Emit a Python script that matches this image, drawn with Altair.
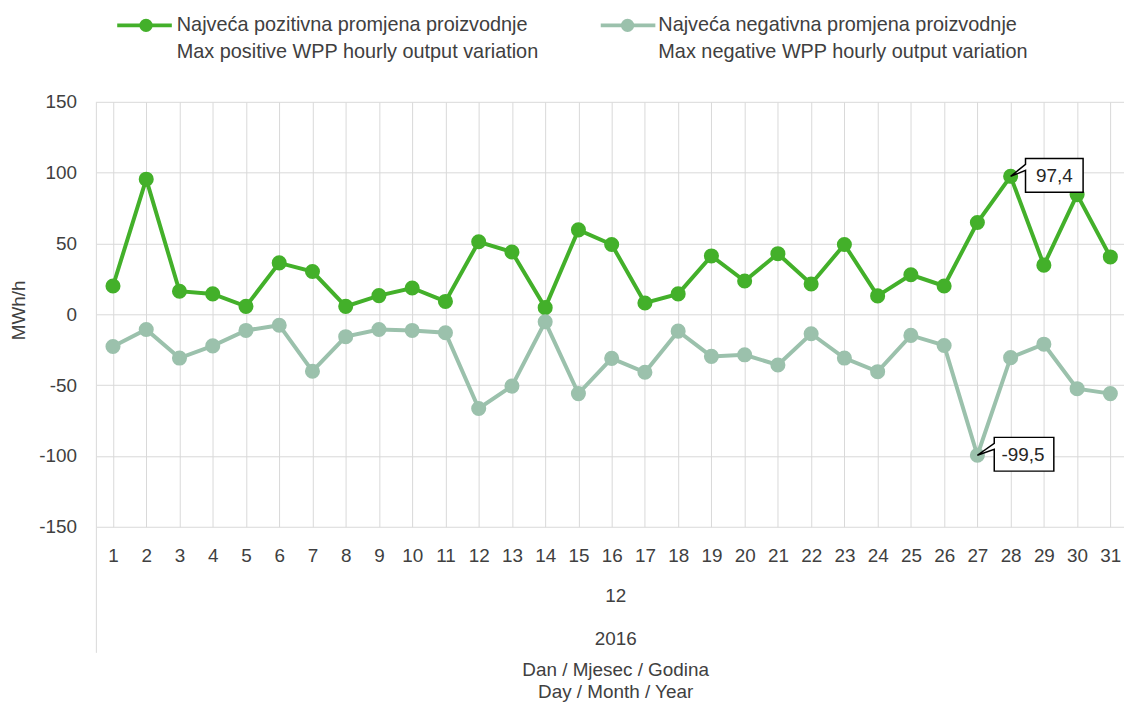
import altair as alt
import pandas as pd

days = list(range(1, 32))
pos_values = [20, 95.4, 16.3, 14.4, 5.6, 36.3, 30.2, 5.6, 13.2, 18.6, 9.1, 51.2, 44, 4.7, 59.6,
              49.3, 8, 14.4, 41.2, 23.5, 42.8, 21.4, 49.3, 13, 27.9, 20, 64.8, 97.4, 34.7, 84.5, 40.5]
neg_values = [-22.7, -10.7, -30.9, -22.3, -11.4, -7.7, -40.2, -15.8, -10.7, -11.4, -13, -66.5, -50.7, -5.3, -56,
              -31.1, -40.9, -11.9, -29.7, -28.6, -35.8, -13.7, -30.9, -40.5, -14.9, -22, -99.5, -30.6, -21.1, -52.5, -56]
series_names = ["pos", "neg"]
legend_l1 = ["Najveća pozitivna promjena proizvodnje", "Najveća negativna promjena proizvodnje"]
legend_l2 = ["Max positive WPP hourly output variation", "Max negative WPP hourly output variation"]
y_ticks = [-150, -100, -50, 0, 50, 100, 150]
y_title = "MWh/h"
month_label = "12"
year_label = "2016"
x_title = ["Dan / Mjesec / Godina", "Day / Month / Year"]

GREEN = "#43B02A"
GREY = "#9BC1AC"
TXT = "#404040"
GRID = "#D9D9D9"
FONT = "Liberation Sans"
FS = 19

W_VIEW = 1035
W_RANGE = 1038
H = 428

df = pd.DataFrame({
    "day": days * 2,
    "value": pos_values + neg_values,
    "series": [series_names[0]] * len(days) + [series_names[1]] * len(days),
})

imax = max(range(len(pos_values)), key=lambda i: pos_values[i])
imin = min(range(len(neg_values)), key=lambda i: neg_values[i])
ann_max = pd.DataFrame({"day": [days[imax]], "value": [pos_values[imax]],
                        "label": [f"{pos_values[imax]:.1f}".replace(".", ",")]})
ann_min = pd.DataFrame({"day": [days[imin]], "value": [neg_values[imin]],
                        "label": [f"{neg_values[imin]:.1f}".replace(".", ",")]})

xs = alt.Scale(domain=days, range=[0, W_RANGE], paddingInner=0, paddingOuter=0)
ys = alt.Scale(domain=[-150, 150], nice=False)

x_enc = alt.X("day:O", scale=xs, axis=alt.Axis(
    title=None, labelAngle=0, ticks=False, domain=False, grid=True, bandPosition=0,
    gridColor=GRID, gridWidth=1, labelFontSize=FS, labelFont=FONT, labelColor=TXT, labelPadding=20))
y_enc = alt.Y("value:Q", scale=ys, axis=alt.Axis(
    values=y_ticks, title=None, domain=False, ticks=False, gridColor=GRID, gridWidth=1,
    labelExpr="datum.value + ''",
    labelFontSize=FS, labelFont=FONT, labelColor=TXT, labelPadding=20))
color_enc = alt.Color("series:N", scale=alt.Scale(domain=series_names, range=[GREEN, GREY]), legend=None)

layers = []
for s in series_names:
    base = alt.Chart(df).transform_filter(alt.datum.series == s)
    layers.append(base.mark_line(strokeWidth=4, clip=False).encode(x=x_enc, y=y_enc, color=color_enc))
    layers.append(base.mark_circle(size=230, opacity=1, clip=False).encode(x=x_enc, y=y_enc, color=color_enc))

# callouts
path_max = "M0,0 L15,-12 L15,-18 L73,-18 L73,16 L15,16 L15,-6 Z"
path_min = "M0,0 L17,-12 L17,-18 L77,-18 L77,16 L17,16 L17,-6 Z"
for adf, path, dx in [(ann_max, path_max, 44), (ann_min, path_min, 46)]:
    b = alt.Chart(adf)
    layers.append(b.mark_point(shape=path, size=4, filled=True, fill="white", stroke="black",
                               strokeWidth=1.5, opacity=1, clip=False).encode(
        x=alt.X("day:O", scale=xs), y=alt.Y("value:Q", scale=ys)))
    layers.append(b.mark_text(dx=dx, font=FONT, fontSize=FS, color="#262626", align="center",
                              baseline="middle").encode(
        x=alt.X("day:O", scale=xs), y=alt.Y("value:Q", scale=ys), text="label:N"))

one = pd.DataFrame({"a": [0]})
# left separator line of multi-level axis
layers.append(alt.Chart(one).mark_rule(color=GRID, strokeWidth=1).encode(
    x=alt.value(0), y=alt.value(0), y2=alt.value(555)))

# legend
LFS = 20
leg_pos = [(21, 76, 50, 81), (508, 563, 535, 566)]
for (x1, x2, xc, xt), col, l1, l2 in zip(leg_pos, [GREEN, GREY], legend_l1, legend_l2):
    layers.append(alt.Chart(one).mark_rule(color=col, strokeWidth=4).encode(
        x=alt.value(x1), x2=alt.value(x2), y=alt.value(-77)))
    layers.append(alt.Chart(one).mark_circle(color=col, size=180, opacity=1).encode(
        x=alt.value(xc), y=alt.value(-77)))
    layers.append(alt.Chart(one).mark_text(align="left", baseline="middle", font=FONT, fontSize=LFS,
                                           color=TXT).encode(
        x=alt.value(xt), y=alt.value(-77), text=alt.value(l1)))
    layers.append(alt.Chart(one).mark_text(align="left", baseline="middle", font=FONT, fontSize=LFS,
                                           color=TXT).encode(
        x=alt.value(xt), y=alt.value(-50), text=alt.value(l2)))

# y title
layers.append(alt.Chart(one).mark_text(angle=270, align="center", baseline="middle", font=FONT,
                                       fontSize=FS, color=TXT).encode(
    x=alt.value(-78), y=alt.value(210), text=alt.value(y_title)))

# multi-level x labels and title
cx = 523
for txt, yy in [(month_label, 498), (year_label, 541), (x_title[0], 572), (x_title[1], 594)]:
    layers.append(alt.Chart(one).mark_text(align="center", baseline="middle", font=FONT,
                                           fontSize=FS, color=TXT).encode(
        x=alt.value(cx), y=alt.value(yy), text=alt.value(txt)))

chart = alt.layer(*layers).properties(
    width=W_VIEW, height=H,
    autosize=alt.AutoSizeParams(type="none"),
    padding={"left": 89, "top": 92, "right": 0, "bottom": 176},
    background="white",
).configure_view(stroke=None)

chart.save("out.html", embed_options={"renderer": "svg", "actions": False})
